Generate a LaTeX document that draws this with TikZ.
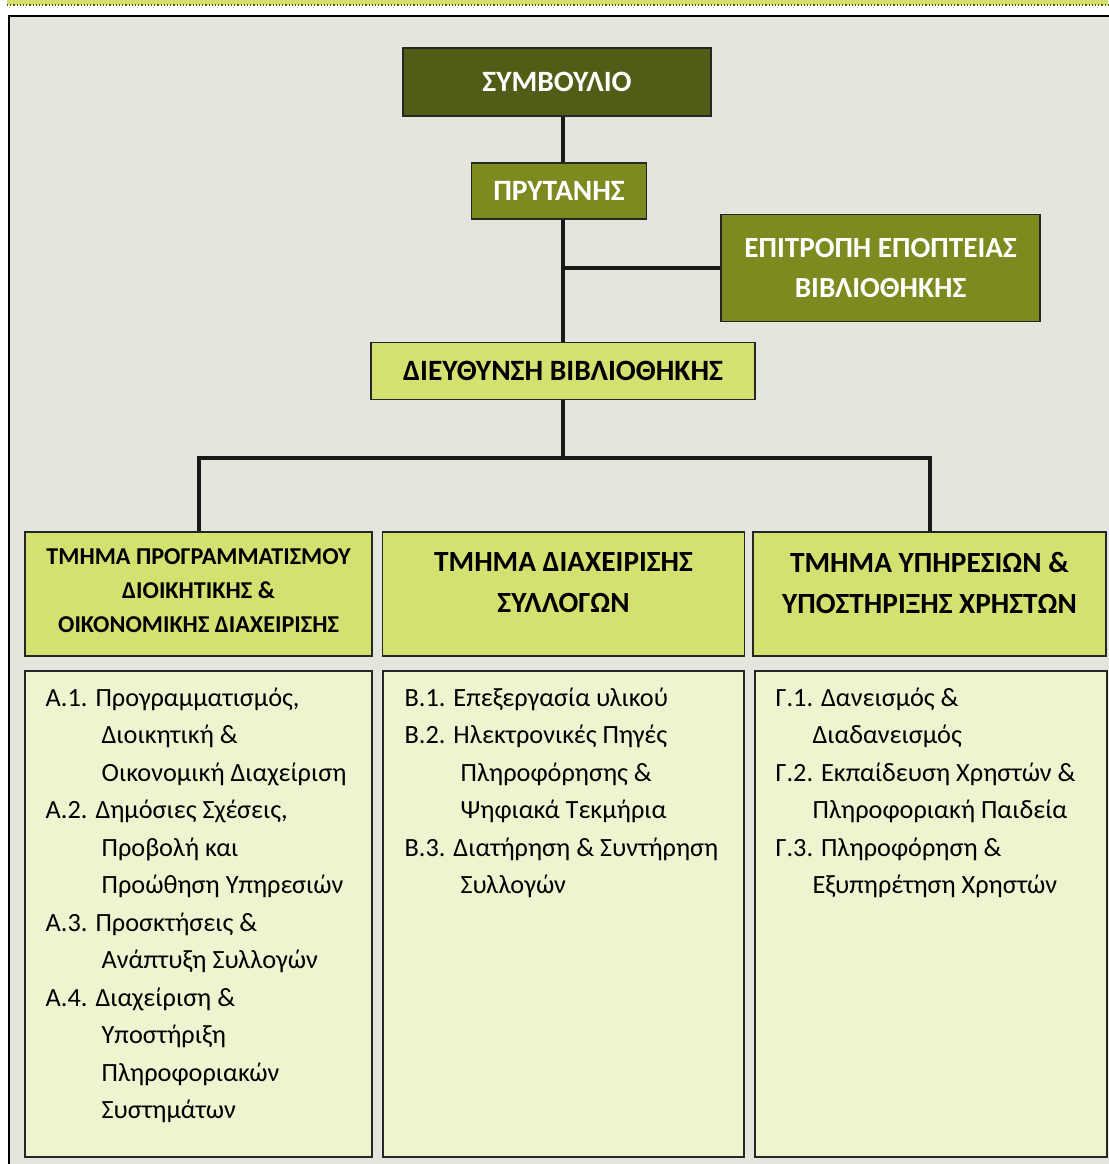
\documentclass[tikz,border=0pt]{standalone}
\usepackage{fontspec}
\setmainfont{Carlito}

\definecolor{frameBg}{HTML}{E3E6DC}
\definecolor{bandTop}{HTML}{D4E06B}
\definecolor{oliveDark}{HTML}{4F5D16}
\definecolor{oliveMid}{HTML}{7C8A1F}
\definecolor{limeBox}{HTML}{D4E170}
\definecolor{paleBox}{HTML}{EFF3CF}

\newcommand{\hangA}{\hspace*{56pt}}
\newcommand{\hangB}{\hspace*{37pt}}

\begin{document}
\begin{tikzpicture}[x=1pt,y=-1pt,
    box/.style={draw=black!85, line width=1.1pt, inner sep=0pt},
    darkbox/.style={box, fill=#1, text=white, font=\bfseries\fontsize{29.5}{40}\selectfont, align=center},
    headbox/.style={box, fill=limeBox},
    listbox/.style={box, fill=paleBox},
    headtext/.style={align=center, inner sep=0pt, font=\bfseries\fontsize{#1}{41}\selectfont},
    listtext/.style={anchor=base west, inner sep=0pt, font=\fontsize{26.3}{37.5}\selectfont},
    conn/.style={line width=4pt, draw=black!90}]
\useasboundingbox (0,0) rectangle (1108,1164);

% top band and frame
\fill[bandTop] (7,0) rectangle (1108,5);
\draw[oliveDark, line width=1.2pt, dotted] (7,5) -- (1108,5);
\draw[fill=frameBg, line width=2.6pt] (9,16) rectangle (1114,1170);

% management
\node[darkbox=oliveDark, minimum width=308, minimum height=68] (council) at (557,82) {ΣΥΜΒΟΥΛΙΟ};
\node[darkbox=oliveMid, minimum width=175, minimum height=56] (rector) at (559,191) {ΠΡΥΤΑΝΗΣ};
\node[darkbox=oliveMid, minimum width=319, minimum height=107, font=\bfseries\fontsize{29.2}{40}\selectfont] (committee) at (880.5,268) {ΕΠΙΤΡΟΠΗ ΕΠΟΠΤΕΙΑΣ\\ΒΙΒΛΙΟΘΗΚΗΣ};
\node[box, fill=limeBox, minimum width=384, minimum height=57, font=\bfseries\fontsize{29.5}{30}\selectfont] (director) at (563,371) {ΔΙΕΥΘΥΝΣΗ ΒΙΒΛΙΟΘΗΚΗΣ};

% departments
\node[headbox, minimum width=347, minimum height=124] (deptA) at (198.5,594) {};
\node[headbox, minimum width=362, minimum height=124] (deptB) at (563.5,594) {};
\node[headbox, minimum width=353, minimum height=124] (deptC) at (929.5,594) {};
\node[headtext=24, font=\bfseries\fontsize{24.2}{34}\selectfont] at ([yshift=3pt]deptA.center) {ΤΜΗΜΑ ΠΡΟΓΡΑΜΜΑΤΙΣΜΟΥ\\ΔΙΟΙΚΗΤΙΚΗΣ \&\\ΟΙΚΟΝΟΜΙΚΗΣ ΔΙΑΧΕΙΡΙΣΗΣ};
\node[headtext=29.3] at ([yshift=11.5pt]deptB.center) {ΤΜΗΜΑ ΔΙΑΧΕΙΡΙΣΗΣ\\ΣΥΛΛΟΓΩΝ};
\node[headtext=29.3] at ([yshift=11.5pt]deptC.center) {ΤΜΗΜΑ ΥΠΗΡΕΣΙΩΝ \&\\ΥΠΟΣΤΗΡΙΞΗΣ ΧΡΗΣΤΩΝ};

% sections of each department
\node[listbox, minimum width=347, minimum height=486] (listA) at (198.5,914) {};
\node[listbox, minimum width=361, minimum height=486] (listB) at (563.5,914) {};
\node[listbox, minimum width=352, minimum height=486] (listC) at (931,914) {};

\node[listtext] at ([xshift=21pt,yshift=-36pt]listA.north west) {\begin{tabular}[t]{@{}l@{}}
Α.1. Προγραμματισμός,\\ \hangA Διοικητική \&\\ \hangA Οικονομική Διαχείριση\\
Α.2. Δημόσιες Σχέσεις,\\ \hangA Προβολή και\\ \hangA Προώθηση Υπηρεσιών\\
Α.3. Προσκτήσεις \&\\ \hangA Ανάπτυξη Συλλογών\\
Α.4. Διαχείριση \&\\ \hangA Υποστήριξη\\ \hangA Πληροφοριακών\\ \hangA Συστημάτων
\end{tabular}};
\node[listtext] at ([xshift=22pt,yshift=-36pt]listB.north west) {\begin{tabular}[t]{@{}l@{}}
Β.1. Επεξεργασία υλικού\\
Β.2. Ηλεκτρονικές Πηγές\\ \hangA Πληροφόρησης \&\\ \hangA Ψηφιακά Τεκμήρια\\
Β.3. Διατήρηση \& Συντήρηση\\ \hangA Συλλογών
\end{tabular}};
\node[listtext] at ([xshift=21pt,yshift=-36pt]listC.north west) {\begin{tabular}[t]{@{}l@{}}
Γ.1. Δανεισμός \&\\ \hangB Διαδανεισμός\\
Γ.2. Εκπαίδευση Χρηστών \&\\ \hangB Πληροφοριακή Παιδεία\\
Γ.3. Πληροφόρηση \&\\ \hangB Εξυπηρέτηση Χρηστών
\end{tabular}};

% connectors
\coordinate (bus) at (563,458);
\draw[conn] (council.south -| director) -- (rector.north -| director);
\draw[conn] (rector.south -| director) -- (director.north);
\draw[conn] (committee.west) -- (committee.west -| director);
\draw[conn] (director.south) -- (bus);
\draw[conn] (deptA.north) -- (deptA |- bus) -- (deptC |- bus) -- (deptC.north);
\end{tikzpicture}
\end{document}
